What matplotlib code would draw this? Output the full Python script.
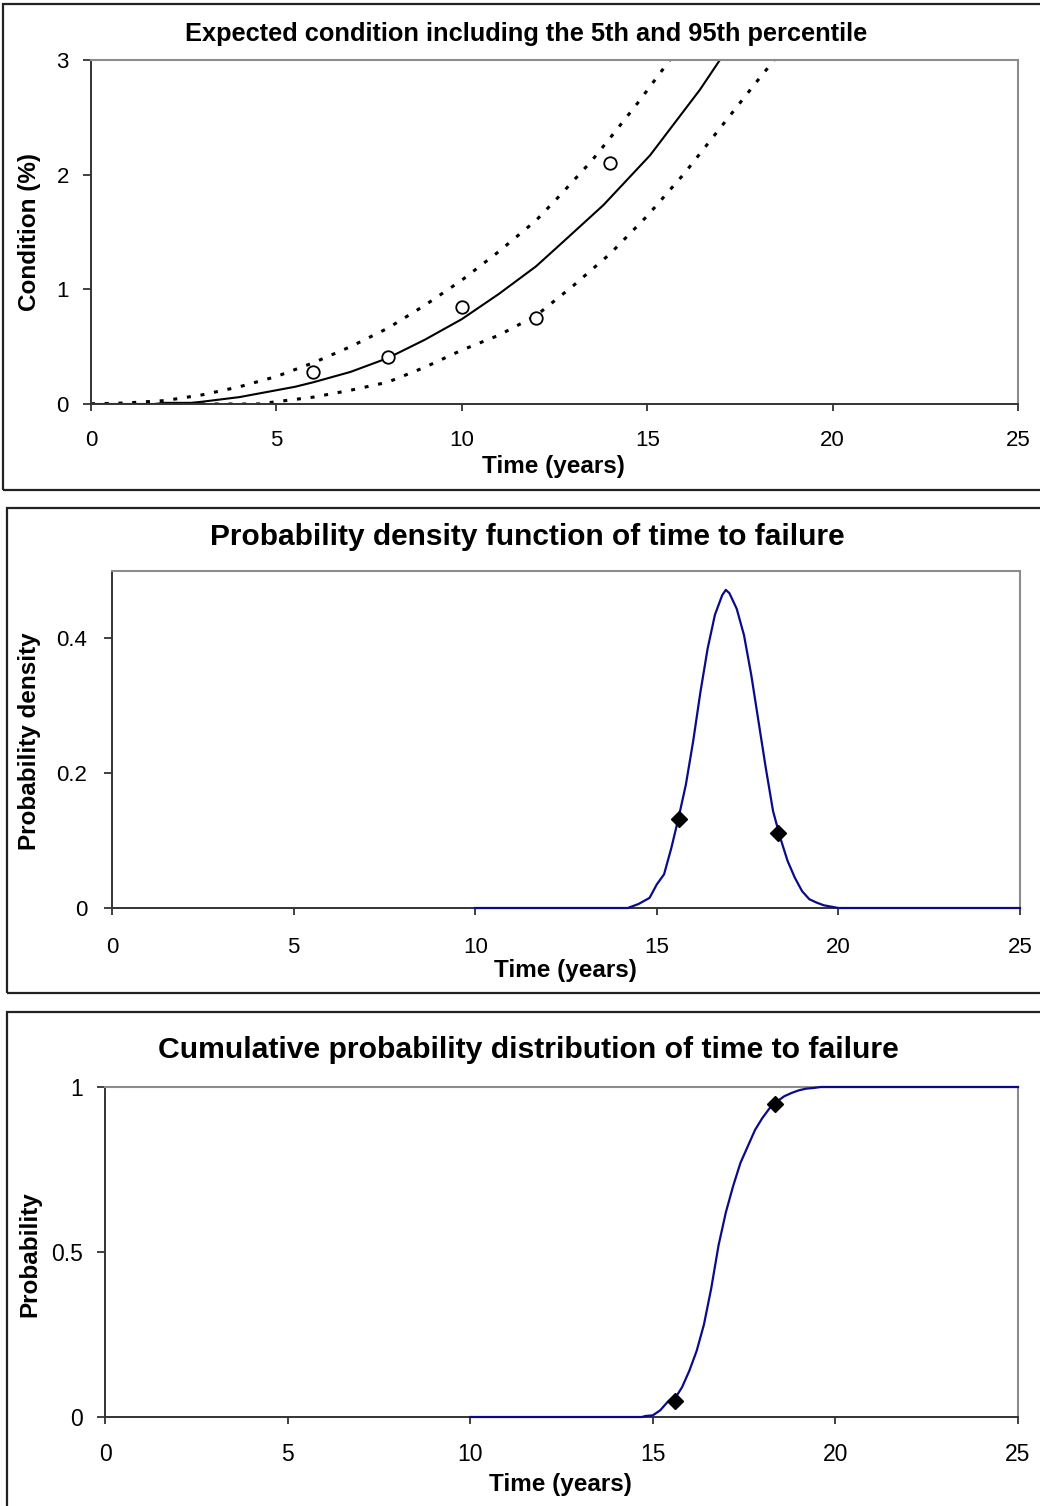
import matplotlib
matplotlib.use("Agg")
import matplotlib.pyplot as plt
from matplotlib.patches import Rectangle

# ---------------- data ----------------
# Panel 1: expected condition and 5th / 95th percentiles
t_mean = [0, 1, 1.7, 2, 2.7, 3, 3.5, 4, 4.5, 5, 5.5, 6, 6.5, 7, 7.5, 8, 9, 10, 11, 12, 12.65,
          13.82, 15.08, 16.42, 16.96]
c_mean = [0, 0.0, 0.0, 0.01, 0.01, 0.02, 0.04, 0.06, 0.09, 0.12, 0.15, 0.19, 0.235, 0.28, 0.34, 0.40,
          0.56, 0.74, 0.96, 1.20, 1.39, 1.735, 2.17, 2.74, 3.0]
t_upper = [0, 1, 2, 3, 4, 5, 6, 7, 8, 9, 10, 11, 12, 12.65, 13.5, 14, 14.78, 15.61]
c_upper = [0, 0.01, 0.03, 0.08, 0.15, 0.24, 0.36, 0.50, 0.66, 0.86, 1.08, 1.33, 1.60, 1.82, 2.12, 2.32, 2.64, 3.0]
t_lower = [0, 1, 2, 3, 4, 4.5, 5, 6, 7, 8, 9, 10, 11, 12, 13, 14, 15, 16, 17, 18, 18.5]
c_lower = [0, 0, 0, 0, 0, 0.0, 0.02, 0.06, 0.12, 0.19, 0.32, 0.47, 0.60, 0.77, 1.03, 1.31, 1.64, 2.01, 2.42, 2.83, 3.03]
obs_t = [6, 8, 10, 12, 14]
obs_c = [0.28, 0.41, 0.85, 0.75, 2.10]

# Panel 2: probability density of time to failure
pdf_t = [10, 14.2, 14.5, 14.8, 15.0, 15.2, 15.4, 15.6, 15.8, 16.0, 16.2, 16.4, 16.6, 16.8, 16.9,
         17.0, 17.2, 17.4, 17.6, 17.8, 18.0, 18.2, 18.4, 18.6, 18.8, 19.0, 19.2, 19.4, 19.6, 19.8, 20.0, 25]
pdf_p = [0, 0, 0.006, 0.015, 0.035, 0.05, 0.089, 0.134, 0.183, 0.247, 0.32, 0.385, 0.435, 0.464, 0.472,
         0.467, 0.444, 0.405, 0.346, 0.277, 0.208, 0.144, 0.104, 0.07, 0.045, 0.025, 0.013, 0.008, 0.004, 0.002, 0, 0]
pdf_mark_t = [15.6, 18.35]
pdf_mark_p = [0.132, 0.112]

# Panel 3: cumulative probability of time to failure
cdf_t = [10, 14.7, 14.8, 15.0, 15.2, 15.4, 15.6, 15.8, 16.0, 16.2, 16.4, 16.6, 16.8, 17.0, 17.2, 17.4,
         17.6, 17.8, 18.0, 18.2, 18.4, 18.6, 18.8, 19.0, 19.2, 19.4, 19.6, 25]
cdf_p = [0, 0, 0.003, 0.005, 0.02, 0.045, 0.055, 0.09, 0.14, 0.20, 0.28, 0.39, 0.52, 0.62, 0.70, 0.77,
         0.82, 0.87, 0.906, 0.936, 0.956, 0.972, 0.982, 0.99, 0.995, 0.997, 1.0, 1.0]
cdf_mark_t = [15.6, 18.35]
cdf_mark_p = [0.05, 0.948]

x_ticks = [0, 5, 10, 15, 20, 25]

# ---------------- layout ----------------
W, H = 1040, 1506
plt.rcParams['font.family'] = ['Liberation Sans', 'DejaVu Sans']
fig = plt.figure(figsize=(W / 100, H / 100), dpi=100)

def rect(l, t, r, b):
    return [l / W, 1 - b / H, (r - l) / W, (b - t) / H]

def fx(x):
    return x / W

def fy(y):
    return 1 - y / H

def frame(l, t, r, b):
    fig.add_artist(Rectangle((fx(l), fy(b)), fx(r) - fx(l), fy(t) - fy(b),
                             transform=fig.transFigure, fill=False,
                             edgecolor='#222222', linewidth=1.6))

def style(ax, yticks, ylim, xpad, ypad, fs=16):
    ax.set_xlim(0, 25)
    ax.set_ylim(*ylim)
    ax.set_xticks(x_ticks)
    ax.set_yticks(yticks)
    for s in ['top', 'right']:
        ax.spines[s].set_color('#8c8c8c')
        ax.spines[s].set_linewidth(1.5)
    for s in ['left', 'bottom']:
        ax.spines[s].set_color('#333333')
        ax.spines[s].set_linewidth(1.4)
    ax.tick_params(axis='x', direction='out', length=5, width=1.3, color='#333333',
                   labelsize=fs, pad=xpad)
    ax.tick_params(axis='y', direction='out', length=6, width=1.3, color='#333333',
                   labelsize=fs, pad=ypad)

frame(3, 4, 1045, 490)
frame(7, 508, 1045, 993)
frame(7, 1012, 1045, 1515)

LAB = 17.5
DOT = (0, (1.3, 3.2))

# ---- Panel 1 ----
ax1 = fig.add_axes(rect(91, 60, 1018, 404))
ax1.plot(t_mean, c_mean, color='black', lw=1.5)
ax1.plot(t_upper, c_upper, color='black', lw=2.2, linestyle=DOT)
ax1.plot(t_lower, c_lower, color='black', lw=2.2, linestyle=DOT)
ax1.plot(obs_t, obs_c, linestyle='none', marker='o', ms=9, mfc='white', mec='black', mew=1.3)
style(ax1, [0, 1, 2, 3], (0, 3), xpad=14, ypad=10)
ax1.set_yticklabels(['0', '1', '2', '3'])
fig.text(fx(526), fy(34), 'Expected condition including the 5th and 95th percentile',
         ha='center', va='center', fontsize=18.3, fontweight='bold')
fig.text(fx(553), fy(466), 'Time (years)', ha='center', va='center', fontsize=LAB, fontweight='bold')
fig.text(fx(30), fy(232), 'Condition (%)', ha='center', va='center', rotation=90,
         fontsize=LAB, fontweight='bold')

# ---- Panel 2 ----
ax2 = fig.add_axes(rect(112, 571, 1020, 908))
ax2.plot(pdf_t, pdf_p, color='#0a0a8a', lw=1.6, clip_on=False, zorder=5)
ax2.plot(pdf_mark_t, pdf_mark_p, linestyle='none', marker='D', ms=8.5, color='black', zorder=6)
style(ax2, [0, 0.2, 0.4], (0, 0.5), xpad=16, ypad=12)
ax2.set_yticklabels(['0', '0.2', '0.4'])
fig.text(fx(527), fy(537), 'Probability density function of time to failure',
         ha='center', va='center', fontsize=21.5, fontweight='bold')
fig.text(fx(565), fy(971), 'Time (years)', ha='center', va='center', fontsize=LAB, fontweight='bold')
fig.text(fx(30), fy(741), 'Probability density', ha='center', va='center', rotation=90,
         fontsize=LAB, fontweight='bold')

# ---- Panel 3 ----
ax3 = fig.add_axes(rect(105, 1087, 1018, 1417))
ax3.plot(cdf_t, cdf_p, color='#0a0a8a', lw=1.6, clip_on=False, zorder=5)
ax3.plot(cdf_mark_t, cdf_mark_p, linestyle='none', marker='D', ms=8.5, color='black', zorder=6)
style(ax3, [0, 0.5, 1], (0, 1), xpad=14, ypad=10, fs=16.5)
ax3.set_yticklabels(['0', '0.5', '1'])
fig.text(fx(528), fy(1050), 'Cumulative probability distribution of time to failure',
         ha='center', va='center', fontsize=21.7, fontweight='bold')
fig.text(fx(560), fy(1485), 'Time (years)', ha='center', va='center', fontsize=LAB, fontweight='bold')
fig.text(fx(30), fy(1254), 'Probability', ha='center', va='center', rotation=90,
         fontsize=LAB, fontweight='bold')

fig.savefig('out.png', dpi=100)
